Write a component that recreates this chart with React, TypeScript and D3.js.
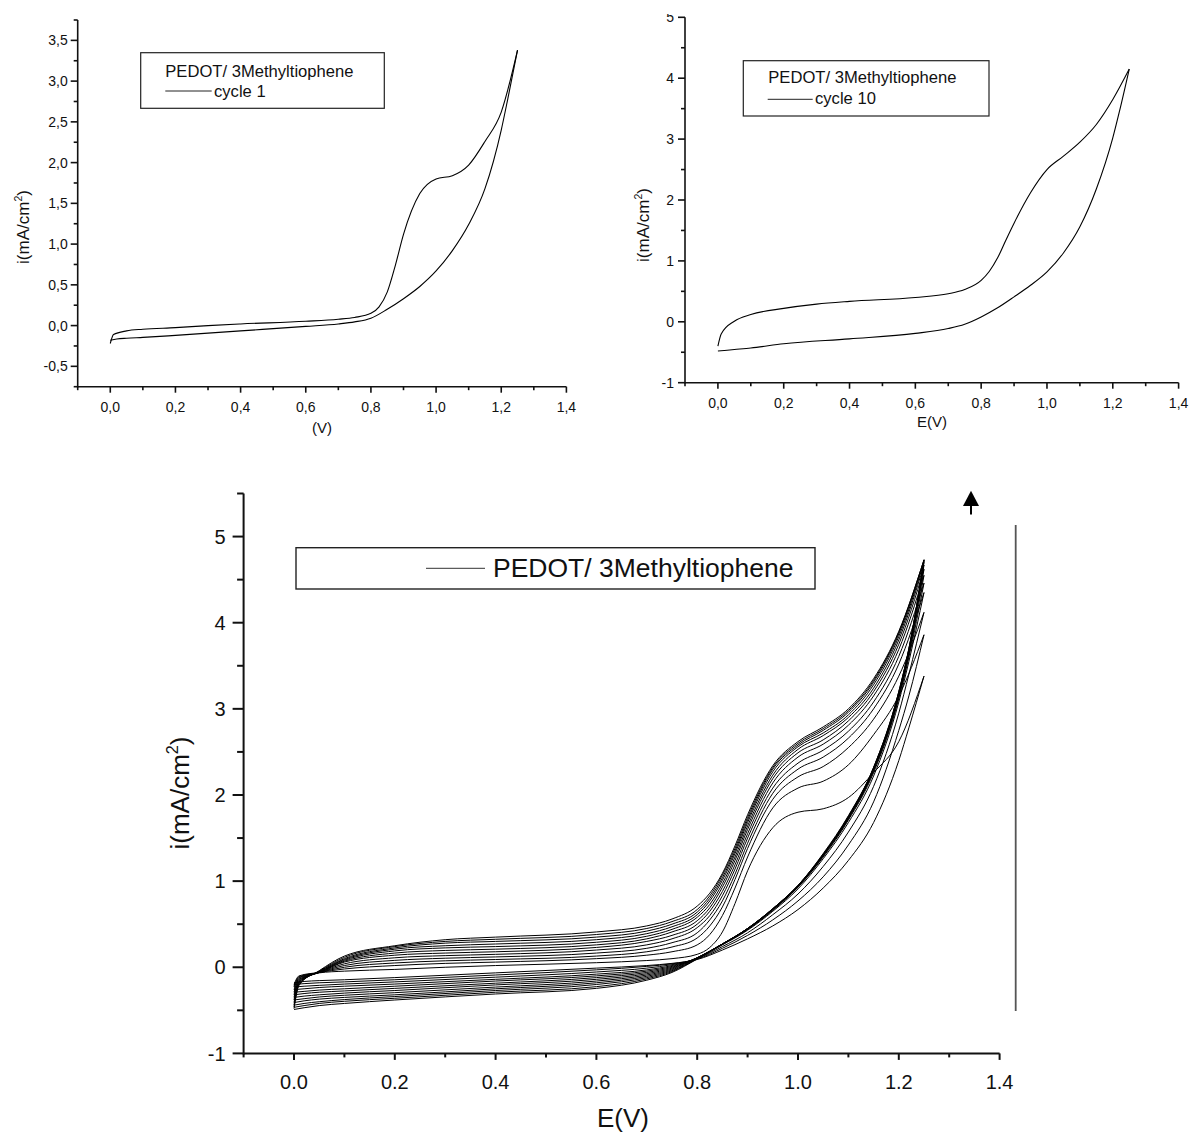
import React from "react";
import * as d3 from "d3";

const FONT = '"Liberation Sans", Arial, Helvetica, sans-serif';

// Potential grids (V) for the anodic (forward) and cathodic (reverse) branches
const E_FWD = [0, 0.01, 0.05, 0.1, 0.2, 0.3, 0.4, 0.6, 0.7, 0.75, 0.8, 0.825, 0.85, 0.875, 0.9, 0.95, 1.0, 1.05, 1.1, 1.15, 1.2, 1.25];
const E_REV = [0, 0.02, 0.05, 0.1, 0.2, 0.4, 0.6, 0.7, 0.75, 0.8, 0.85, 0.9, 0.95, 1.0, 1.05, 1.1, 1.15, 1.2, 1.22, 1.25];

// Current density (mA/cm2), forward branch, cycles 1..12 (bottom chart)
const C1_FWD = [-0.22, -0.11, -0.065, -0.045, -0.025, 0.0, 0.02, 0.053, 0.078, 0.1, 0.15, 0.23, 0.41, 0.74, 1.12, 1.62, 1.8, 1.84, 1.97, 2.26, 2.62, 3.38];
const C2_FWD = [-0.2, -0.1, -0.06, -0.02, 0.02, 0.045, 0.06, 0.1, 0.14, 0.18, 0.26, 0.38, 0.6, 0.92, 1.28, 1.85, 2.08, 2.16, 2.35, 2.7, 3.15, 3.86];
const C3_FWD = [-0.23, -0.12, -0.06, 0.0, 0.05, 0.075, 0.09, 0.13, 0.18, 0.235, 0.34, 0.48, 0.7, 1.02, 1.38, 1.95, 2.21, 2.33, 2.55, 2.88, 3.38, 4.12];
const C4_FWD = [-0.26, -0.13, -0.06, 0.02, 0.08, 0.105, 0.12, 0.165, 0.22, 0.285, 0.4, 0.55, 0.77, 1.08, 1.44, 2.02, 2.3, 2.44, 2.66, 3.0, 3.52, 4.35];
const C5_FWD = [-0.29, -0.14, -0.06, 0.04, 0.11, 0.135, 0.15, 0.2, 0.26, 0.33, 0.46, 0.6, 0.83, 1.14, 1.5, 2.08, 2.37, 2.52, 2.74, 3.08, 3.61, 4.46];
const C6_FWD = [-0.32, -0.15, -0.06, 0.06, 0.14, 0.165, 0.18, 0.23, 0.3, 0.37, 0.5, 0.65, 0.88, 1.19, 1.55, 2.14, 2.44, 2.59, 2.81, 3.15, 3.69, 4.55];
const C7_FWD = [-0.35, -0.16, -0.06, 0.07, 0.165, 0.195, 0.21, 0.26, 0.33, 0.41, 0.54, 0.69, 0.93, 1.24, 1.6, 2.19, 2.49, 2.64, 2.86, 3.2, 3.75, 4.62];
const C8_FWD = [-0.38, -0.17, -0.055, 0.08, 0.19, 0.225, 0.24, 0.29, 0.36, 0.44, 0.58, 0.73, 0.97, 1.28, 1.64, 2.23, 2.53, 2.69, 2.9, 3.24, 3.8, 4.67];
const C9_FWD = [-0.41, -0.18, -0.05, 0.09, 0.21, 0.25, 0.27, 0.32, 0.39, 0.47, 0.61, 0.77, 1.01, 1.32, 1.68, 2.27, 2.56, 2.72, 2.93, 3.28, 3.84, 4.7];
const C10_FWD = [-0.44, -0.19, -0.05, 0.1, 0.225, 0.28, 0.3, 0.35, 0.42, 0.5, 0.64, 0.8, 1.04, 1.35, 1.71, 2.3, 2.58, 2.75, 2.96, 3.31, 3.87, 4.72];
const C11_FWD = [-0.46, -0.2, -0.045, 0.115, 0.24, 0.3, 0.325, 0.38, 0.45, 0.53, 0.67, 0.83, 1.07, 1.38, 1.74, 2.32, 2.6, 2.77, 2.98, 3.33, 3.89, 4.73];
const C12_FWD = [-0.48, -0.21, -0.04, 0.13, 0.25, 0.32, 0.35, 0.41, 0.48, 0.56, 0.71, 0.86, 1.09, 1.41, 1.77, 2.34, 2.62, 2.79, 3.0, 3.35, 3.9, 4.73];

// Reverse branch, cycles 1..12
const C1_REV = [-0.18, -0.165, -0.155, -0.145, -0.12, -0.065, -0.01, 0.02, 0.045, 0.09, 0.2, 0.33, 0.48, 0.67, 0.92, 1.24, 1.68, 2.4, 2.78, 3.38];
const C2_REV = [-0.2, -0.19, -0.18, -0.17, -0.145, -0.09, -0.03, 0.01, 0.04, 0.095, 0.22, 0.37, 0.55, 0.77, 1.05, 1.42, 1.92, 2.75, 3.15, 3.86];
const C3_REV = [-0.23, -0.22, -0.21, -0.195, -0.17, -0.115, -0.055, -0.01, 0.03, 0.1, 0.24, 0.4, 0.61, 0.85, 1.17, 1.57, 2.1, 2.95, 3.4, 4.12];
const C4_REV = [-0.26, -0.25, -0.235, -0.22, -0.195, -0.14, -0.08, -0.03, 0.02, 0.105, 0.26, 0.43, 0.65, 0.91, 1.26, 1.68, 2.22, 3.08, 3.55, 4.35];
const C5_REV = [-0.29, -0.28, -0.265, -0.25, -0.22, -0.16, -0.1, -0.045, 0.01, 0.11, 0.265, 0.44, 0.66, 0.93, 1.28, 1.71, 2.26, 3.12, 3.6, 4.46];
const C6_REV = [-0.32, -0.305, -0.29, -0.275, -0.245, -0.185, -0.12, -0.06, 0.0, 0.11, 0.27, 0.44, 0.67, 0.93, 1.29, 1.72, 2.28, 3.14, 3.63, 4.55];
const C7_REV = [-0.35, -0.335, -0.32, -0.3, -0.27, -0.205, -0.14, -0.075, -0.01, 0.11, 0.27, 0.445, 0.67, 0.94, 1.3, 1.73, 2.29, 3.16, 3.65, 4.62];
const C8_REV = [-0.38, -0.365, -0.345, -0.325, -0.295, -0.23, -0.16, -0.09, -0.02, 0.11, 0.27, 0.445, 0.675, 0.94, 1.3, 1.74, 2.3, 3.17, 3.67, 4.67];
const C9_REV = [-0.41, -0.39, -0.37, -0.35, -0.32, -0.25, -0.18, -0.105, -0.03, 0.105, 0.27, 0.45, 0.675, 0.945, 1.31, 1.74, 2.31, 3.18, 3.68, 4.7];
const C10_REV = [-0.44, -0.42, -0.4, -0.375, -0.34, -0.27, -0.2, -0.12, -0.04, 0.1, 0.27, 0.45, 0.68, 0.95, 1.31, 1.75, 2.31, 3.19, 3.69, 4.72];
const C11_REV = [-0.465, -0.445, -0.42, -0.395, -0.36, -0.29, -0.225, -0.135, -0.05, 0.1, 0.27, 0.45, 0.68, 0.95, 1.31, 1.75, 2.32, 3.2, 3.7, 4.73];
const C12_REV = [-0.49, -0.47, -0.445, -0.42, -0.38, -0.31, -0.245, -0.15, -0.06, 0.095, 0.265, 0.45, 0.68, 0.95, 1.32, 1.76, 2.32, 3.2, 3.7, 4.73];

// Cycle 10 as shown in the top-right panel
const TR_FWD = [-0.4, -0.2, 0.01, 0.12, 0.22, 0.29, 0.335, 0.4, 0.46, 0.53, 0.68, 0.83, 1.05, 1.34, 1.62, 2.12, 2.5, 2.72, 2.95, 3.24, 3.65, 4.15];
const TR_REV = [-0.48, -0.47, -0.455, -0.43, -0.36, -0.28, -0.19, -0.11, -0.04, 0.08, 0.23, 0.41, 0.6, 0.82, 1.13, 1.56, 2.18, 3.02, 3.45, 4.15];

const ALL_FWD = [C1_FWD, C2_FWD, C3_FWD, C4_FWD, C5_FWD, C6_FWD, C7_FWD, C8_FWD, C9_FWD, C10_FWD, C11_FWD, C12_FWD];
const ALL_REV = [C1_REV, C2_REV, C3_REV, C4_REV, C5_REV, C6_REV, C7_REV, C8_REV, C9_REV, C10_REV, C11_REV, C12_REV];

// Tick values
const X_TICKS = [0, 0.2, 0.4, 0.6, 0.8, 1.0, 1.2, 1.4];
const TL_Y_TICKS = [-0.5, 0, 0.5, 1, 1.5, 2, 2.5, 3, 3.5];
const TR_Y_TICKS = [-1, 0, 1, 2, 3, 4, 5];
const B_Y_TICKS = [-1, 0, 1, 2, 3, 4, 5];

const LEGEND_TITLE = "PEDOT/ 3Methyltiophene";
const TL_ITEM = "cycle 1";
const TR_ITEM = "cycle 10";

const fixMinus = (s: string) => s.replace("\u2212", "-");
const commaFmt = (v: number) => fixMinus(d3.format(".1f")(v)).replace(".", ",");
const dotFmt = (v: number) => fixMinus(d3.format(".1f")(v));
const intFmt = (v: number) => fixMinus(d3.format("d")(v));

type Loop = { fwd: number[]; rev: number[] };

type PanelProps = {
  left: number; right: number; top: number; bottom: number;
  xd: [number, number]; yd: [number, number];
  xTicks: number[]; xMinorStep: number;
  yTicks: number[]; yMinorStep: number;
  xFmt: (v: number) => string; yFmt: (v: number) => string;
  tickFont: number; axisW: number;
  xMaj: number; xMin: number; yMaj: number; yMin: number;
  xLabOff: number; yLabOff: number;
  loops: Loop[]; curveW: number;
};

function Panel(p: PanelProps) {
  const x = d3.scaleLinear().domain(p.xd).range([p.left, p.right]);
  const y = d3.scaleLinear().domain(p.yd).range([p.bottom, p.top]);
  const line = d3
    .line<[number, number]>()
    .x((d) => x(d[0]))
    .y((d) => y(d[1]))
    .curve(d3.curveMonotoneX);
  const near = (a: number[], v: number) => a.some((t) => Math.abs(t - v) < 1e-6);
  const xMinor = d3.range(p.xd[0], p.xd[1] + 1e-9, p.xMinorStep).filter((v) => !near(p.xTicks, v));
  const yMinor = d3.range(p.yd[0], p.yd[1] + 1e-9, p.yMinorStep).filter((v) => !near(p.yTicks, v));
  return (
    <g>
      {p.loops.map((l, i) => (
        <g key={i} fill="none" stroke="#000" strokeWidth={p.curveW}>
          <path d={line(E_FWD.map((e, k) => [e, l.fwd[k]] as [number, number])) || ""} />
          <path d={line(E_REV.map((e, k) => [e, l.rev[k]] as [number, number])) || ""} />
        </g>
      ))}
      <g stroke="#111" strokeWidth={p.axisW}>
        <line x1={p.left} x2={p.left} y1={p.bottom + p.axisW / 2} y2={p.top} />
        <line x1={p.left} x2={p.right} y1={p.bottom} y2={p.bottom} />
        {p.xTicks.map((v) => (
          <line key={"xM" + v} x1={x(v)} x2={x(v)} y1={p.bottom} y2={p.bottom + p.xMaj} />
        ))}
        {xMinor.map((v) => (
          <line key={"xm" + v} x1={x(v)} x2={x(v)} y1={p.bottom} y2={p.bottom + p.xMin} />
        ))}
        {p.yTicks.map((v) => (
          <line key={"yM" + v} x1={p.left - p.yMaj} x2={p.left} y1={y(v)} y2={y(v)} />
        ))}
        {yMinor.map((v) => (
          <line key={"ym" + v} x1={p.left - p.yMin} x2={p.left} y1={y(v)} y2={y(v)} />
        ))}
      </g>
      <g fontFamily={FONT} fontSize={p.tickFont} fill="#111">
        {p.xTicks.map((v) => (
          <text key={"xl" + v} x={x(v)} y={p.bottom + p.xLabOff} textAnchor="middle">
            {p.xFmt(v)}
          </text>
        ))}
        {p.yTicks.map((v) => (
          <text key={"yl" + v} x={p.left - p.yLabOff} y={y(v)} dy="0.36em" textAnchor="end">
            {p.yFmt(v)}
          </text>
        ))}
      </g>
    </g>
  );
}

function YTitle({ cx, cy, size }: { cx: number; cy: number; size: number }) {
  return (
    <text
      transform={`translate(${cx},${cy}) rotate(-90)`}
      textAnchor="middle"
      dy="0.35em"
      fontFamily={FONT}
      fontSize={size}
      fill="#111"
    >
      i(mA/cm
      <tspan fontSize={size * 0.62} dy={-size * 0.42}>2</tspan>
      <tspan dy={size * 0.42}>)</tspan>
    </text>
  );
}

export default function App() {
  const c1: Loop = { fwd: C1_FWD, rev: C1_REV };
  const trLoop: Loop = { fwd: TR_FWD, rev: TR_REV };
  const bottomLoops: Loop[] = ALL_FWD.map((f, i) => ({ fwd: f, rev: ALL_REV[i] }));
  return (
    <svg
      width={1191}
      height={1133}
      viewBox="0 0 1191 1133"
      style={{ position: "absolute", left: 0, top: 0, display: "block", background: "#fff" }}
    >
      <defs>
        <clipPath id="trclip">
          <rect x={590} y={14} width={601} height={500} />
        </clipPath>
      </defs>
      <rect x={0} y={0} width={1191} height={1133} fill="#fff" />

      {/* Top-left: cycle 1 */}
      <Panel
        left={77.7} right={566.4} top={20} bottom={386.7}
        xd={[-0.1, 1.4]} yd={[-0.75, 3.75]}
        xTicks={X_TICKS} xMinorStep={0.1}
        yTicks={TL_Y_TICKS} yMinorStep={0.25}
        xFmt={commaFmt} yFmt={commaFmt}
        tickFont={14} axisW={1.6}
        xMaj={6} xMin={3.5} yMaj={7} yMin={4}
        xLabOff={25} yLabOff={10}
        loops={[c1]} curveW={1.1}
      />
      <YTitle cx={23} cy={227} size={17} />
      <text x={322} y={433} textAnchor="middle" fontFamily={FONT} fontSize={15} fill="#111">(V)</text>
      <g fontFamily={FONT} fontSize={16.6} fill="#111">
        <rect x={140.7} y={52.7} width={243.6} height={55.6} fill="#fff" stroke="#222" strokeWidth={1.2} />
        <text x={165.3} y={76.7}>{LEGEND_TITLE}</text>
        <line x1={165.3} x2={211.7} y1={91} y2={91} stroke="#222" strokeWidth={1} />
        <text x={214} y={96.7}>{TL_ITEM}</text>
      </g>

      {/* Top-right: cycle 10 */}
      <g clipPath="url(#trclip)">
        <Panel
          left={685} right={1178.6} top={17.3} bottom={382.7}
          xd={[-0.1, 1.4]} yd={[-1, 5]}
          xTicks={X_TICKS} xMinorStep={0.1}
          yTicks={TR_Y_TICKS} yMinorStep={0.5}
          xFmt={commaFmt} yFmt={intFmt}
          tickFont={14} axisW={1.6}
          xMaj={6} xMin={3.5} yMaj={7} yMin={4}
          xLabOff={25.5} yLabOff={11}
          loops={[trLoop]} curveW={1.1}
        />
      </g>
      <YTitle cx={643.5} cy={225} size={17} />
      <text x={932} y={427} textAnchor="middle" fontFamily={FONT} fontSize={15} fill="#111">E(V)</text>
      <g fontFamily={FONT} fontSize={16.6} fill="#111">
        <rect x={743.3} y={60.7} width={245.7} height={55.3} fill="#fff" stroke="#222" strokeWidth={1.2} />
        <text x={768.3} y={83.3}>{LEGEND_TITLE}</text>
        <line x1={767.7} x2={812.7} y1={99.3} y2={99.3} stroke="#222" strokeWidth={1} />
        <text x={815} y={104}>{TR_ITEM}</text>
      </g>

      {/* Bottom: all cycles */}
      <Panel
        left={243.6} right={999.6} top={493.5} bottom={1053.4}
        xd={[-0.1, 1.4]} yd={[-1, 5.5]}
        xTicks={X_TICKS} xMinorStep={0.1}
        yTicks={B_Y_TICKS} yMinorStep={0.5}
        xFmt={dotFmt} yFmt={intFmt}
        tickFont={20} axisW={2}
        xMaj={6.5} xMin={4} yMaj={11} yMin={6.5}
        xLabOff={35.3} yLabOff={18}
        loops={bottomLoops} curveW={1}
      />
      <YTitle cx={180} cy={793} size={26} />
      <text x={623} y={1126.5} textAnchor="middle" fontFamily={FONT} fontSize={26} fill="#111">E(V)</text>
      <g fontFamily={FONT} fill="#111">
        <rect x={296} y={547.7} width={519} height={41.3} fill="#fff" stroke="#222" strokeWidth={1.4} />
        <line x1={426} x2={485} y1={568.3} y2={568.3} stroke="#333" strokeWidth={1} />
        <text x={493} y={577.3} fontSize={26.5}>{LEGEND_TITLE}</text>
      </g>
      {/* arrow and vertical bar */}
      <path d="M971,490.7 L979,506 L963,506 Z" fill="#000" />
      <line x1={971} x2={971} y1={505} y2={514.4} stroke="#000" strokeWidth={2} />
      <line x1={1015.7} x2={1015.7} y1={525} y2={1011} stroke="#555" strokeWidth={1.8} />
    </svg>
  );
}
